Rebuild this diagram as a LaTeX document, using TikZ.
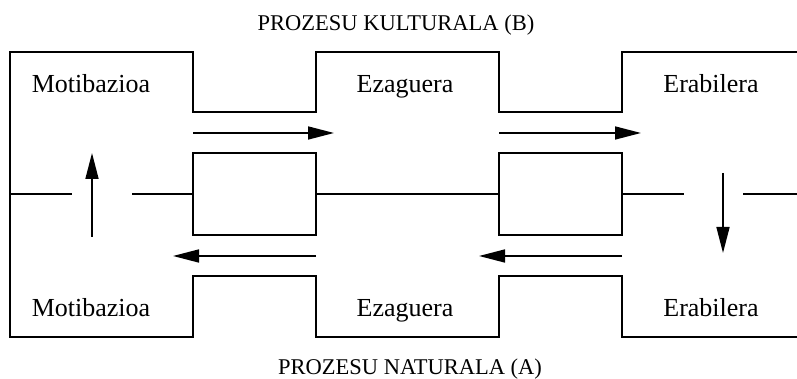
\documentclass[tikz,border=0pt]{standalone}
\usepackage{fontspec}
\setmainfont{Liberation Serif}
\usetikzlibrary{arrows.meta}
\tikzset{
  gate/.style={
    % The shape:
    shape=rectangle,
    % The size:
    minimum width=123pt,minimum height=82pt,inner sep=0pt,
    % The border:
    line width=1.8pt,draw=black
  }}
\tikzset{
	flow/.style={
		% The line and its tip
		line width=1.6pt,
		-{Triangle[length=26pt,width=13pt]}},
	stage/.style={
		anchor=base,inner sep=0pt,
		font=\fontsize{26}{30}\selectfont},
	process/.style={
		anchor=base,inner sep=0pt,
		font=\fontsize{22.5}{26}\selectfont}}

\begin{document}
\begin{tikzpicture}[x=1pt,y=1pt]
	\useasboundingbox (0,0) rectangle (797,379);
	% The frame
	\draw[line width=1.8pt] (797,327) -- (622,327) -- (622,267) -- (499,267) -- (499,327)
		-- (316,327) -- (316,267) -- (193,267) -- (193,327) -- (10,327) -- (10,42)
		-- (193,42) -- (193,103) -- (316,103) -- (316,42) -- (499,42) -- (499,103)
		-- (622,103) -- (622,42) -- (797,42);
	% The two gates
	\node[gate] (gateL) at (254.5,185) {};
	\node[gate] (gateR) at (560.5,185) {};
	% Stages
	\node[stage] (motU) at (91,286) {Motibazioa};
	\node[stage] (ezaU) at (405,286) {Ezaguera};
	\node[stage] (eraU) at (711,286) {Erabilera};
	\node[stage] (motD) at (91,62) {Motibazioa};
	\node[stage] (ezaD) at (405,62) {Ezaguera};
	\node[stage] (eraD) at (711,62) {Erabilera};
	% Processes
	\node[process] (cult) at (396,348) {PROZESU KULTURALA (B)};
	\node[process] (nat) at (410,4) {PROZESU NATURALA (A)};
	% Middle line
	\coordinate (m0) at (10,185);
	\coordinate (m1) at (72,185);
	\coordinate (m2) at (132,185);
	\coordinate (m3) at (684,185);
	\coordinate (m4) at (743,185);
	\coordinate (m5) at (797,185);
	\draw[line width=1.8pt] (m0) -- (m1);
	\draw[line width=1.8pt] (m2) -- (gateL.west);
	\draw[line width=1.8pt] (gateL.east) -- (gateR.west);
	\draw[line width=1.8pt] (gateR.east) -- (m3);
	\draw[line width=1.8pt] (m4) -- (m5);
	% Arrows of the upper row
	\coordinate (a1) at (193,246);
	\coordinate (b1) at (334,246);
	\coordinate (a2) at (499,246);
	\coordinate (b2) at (641,246);
	\draw[flow] (a1) -- (b1);
	\draw[flow] (a2) -- (b2);
	% Arrows of the lower row
	\coordinate (c1) at (316,123);
	\coordinate (d1) at (173,123);
	\coordinate (c2) at (622,123);
	\coordinate (d2) at (479,123);
	\draw[flow] (c1) -- (d1);
	\draw[flow] (c2) -- (d2);
	% Up and down
	\coordinate (up0) at (92,142);
	\coordinate (up1) at (92,226);
	\coordinate (dn0) at (723,206);
	\coordinate (dn1) at (723,126);
	\draw[flow] (up0) -- (up1);
	\draw[flow] (dn0) -- (dn1);
\end{tikzpicture}
\end{document}
